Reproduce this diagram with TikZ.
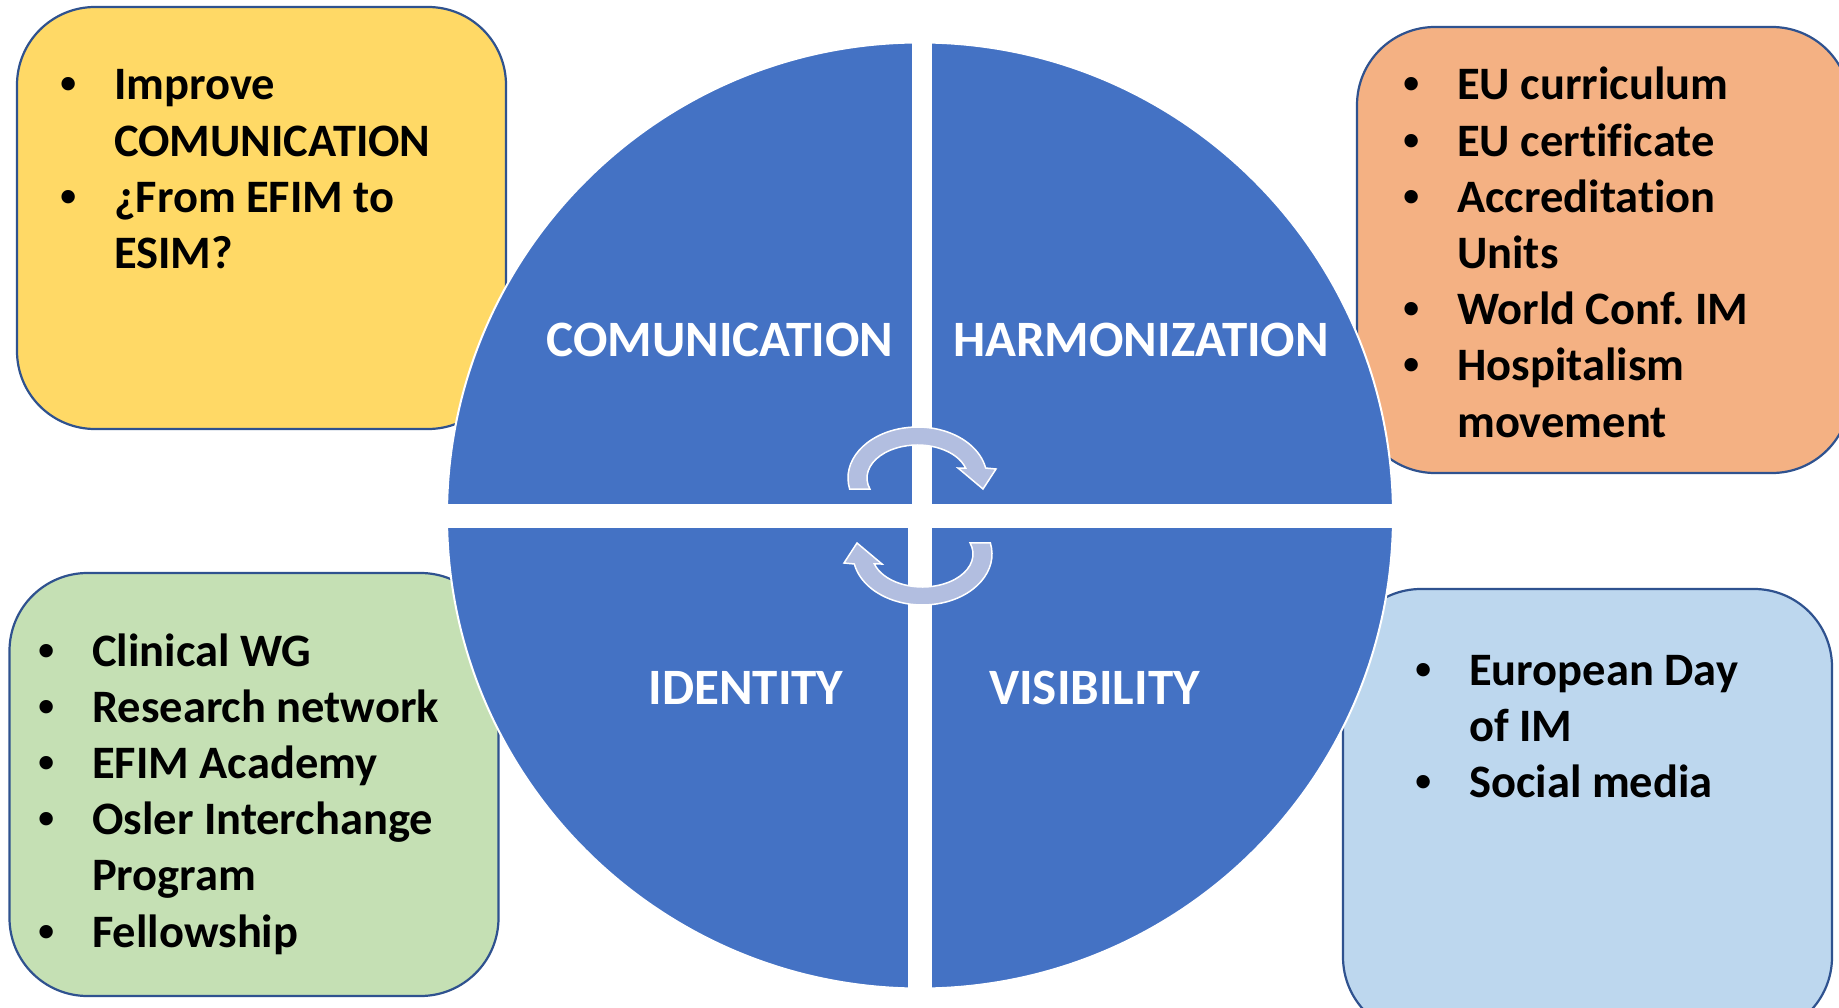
\documentclass[tikz,border=0pt]{standalone}
\usepackage{fontspec}
\setmainfont{Carlito}[Ligatures=NoCommon]
\newfontfamily\bulfont{Liberation Sans}
\frenchspacing
\definecolor{qblue}{HTML}{4472C4}
\definecolor{bord}{HTML}{2F528F}
\definecolor{yel}{HTML}{FFD966}
\definecolor{ora}{HTML}{F4B183}
\definecolor{gre}{HTML}{C5E0B4}
\definecolor{lbl}{HTML}{BDD7EE}
\definecolor{arr}{HTML}{B2BEE0}
\newlength{\bw}\setlength{\bw}{52pt}
\newcommand{\bitem}[1]{\makebox[\bw][l]{\makebox[12pt][c]{\bulfont\textbullet}}#1}
\newcommand{\citem}[1]{\hspace*{\bw}#1}
\begin{document}
\begin{tikzpicture}[x=1pt,y=-1pt,
  infobox/.style={draw=bord, line width=2.2pt, rounded corners=78pt, inner sep=0pt, outer sep=0pt},
  listtext/.style={anchor=base west, inner sep=0pt, font=\fontsize{46.5}{56.2}\selectfont\bfseries},
  quadlabel/.style={anchor=base, inner sep=0pt, text=white, font=\fontsize{51}{60}\selectfont\bfseries},
  cyc/.style={fill=arr, draw=white, line width=1.5pt, line join=miter}]
\useasboundingbox (0,0) rectangle (1839,1008);
\fill[white] (0,0) rectangle (1839,1008);

% boxes
\node[infobox, fill=yel, minimum width=489pt, minimum height=422pt] (yb) at (261.5,218) {};
\node[infobox, fill=ora, minimum width=493pt, minimum height=446pt] (ob) at (1603.5,250) {};
\node[infobox, fill=gre, minimum width=489pt, minimum height=423pt] (gb) at (254,784.5) {};
\node[infobox, fill=lbl, minimum width=489pt, minimum height=446pt] (bb) at (1587.5,812) {};

% quadrant circle
\begin{scope}
\clip (920,515.5) circle[radius=473];
\fill[qblue] (440,35) rectangle (911.5,503.5);
\fill[qblue] (932,35) rectangle (1400,503.5);
\fill[qblue] (440,527.5) rectangle (908,995);
\fill[qblue] (932,527.5) rectangle (1400,995);
\end{scope}
\draw[white, line width=2pt] (920,515.5) circle[radius=473];

% labels
\node[quadlabel] (lc) at (720,356) {COMUNICATION};
\node[quadlabel] (lh) at (1141,356) {HARMONIZATION};
\node[quadlabel] (li) at (746,704) {IDENTITY};
\node[quadlabel] (lv) at (1094.5,704) {VISIBILITY};

% cycle arrows
\begin{scope}[shift={(917.5,478)}]
\draw[cyc] (167.5:69.5 and 51) arc[start angle=167.5, end angle=348.7, x radius=69.5, y radius=51]
  -- (78.5,-9) -- (65.5,11) -- (40.5,-10) -- (342.4:50.5 and 33)
  arc[start angle=342.4, end angle=160.5, x radius=50.5, y radius=33] -- cycle;
\end{scope}
\begin{scope}[rotate around={180:(920,516)}, shift={(917.5,478)}]
\draw[cyc] (167.5:69.5 and 51) arc[start angle=167.5, end angle=348.7, x radius=69.5, y radius=51]
  -- (78.5,-9) -- (65.5,11) -- (40.5,-10) -- (342.4:50.5 and 33)
  arc[start angle=342.4, end angle=160.5, x radius=50.5, y radius=33] -- cycle;
\end{scope}

% lists
\node[listtext] (yt) at (62,100) {\begin{tabular}[t]{@{}l@{}}
\bitem{Improve}\\ \citem{COMUNICATION}\\ \bitem{¿From EFIM to}\\ \citem{ESIM?}\end{tabular}};
\node[listtext] (ot) at (1405,100) {\begin{tabular}[t]{@{}l@{}}
\bitem{EU curriculum}\\ \bitem{EU certificate}\\ \bitem{Accreditation}\\ \citem{Units}\\ \bitem{World Conf. IM}\\ \bitem{Hospitalism}\\ \citem{movement}\end{tabular}};
\node[listtext] (gt) at (40,666) {\begin{tabular}[t]{@{}l@{}}
\bitem{Clinical WG}\\ \bitem{Research network}\\ \bitem{EFIM Academy}\\ \bitem{Osler Interchange}\\ \citem{Program}\\ \bitem{Fellowship}\end{tabular}};
\node[listtext] (bt) at (1417,685) {\begin{tabular}[t]{@{}l@{}}
\bitem{European Day}\\ \citem{of IM}\\ \bitem{Social media}\end{tabular}};
\end{tikzpicture}
\end{document}
